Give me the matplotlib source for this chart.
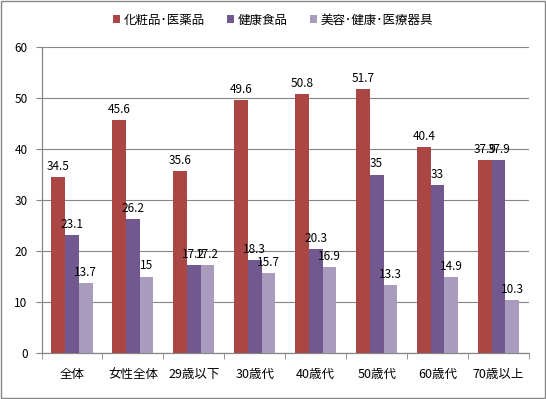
import matplotlib
matplotlib.use('Agg')
import matplotlib.pyplot as plt
from matplotlib.patches import Rectangle
import numpy as np

plt.rcParams['font.family'] = ['Noto Sans CJK JP', 'DejaVu Sans']

categories = ['全体', '女性全体', '29歳以下', '30歳代', '40歳代', '50歳代', '60歳代', '70歳以上']
series_names = ['化粧品･医薬品', '健康食品', '美容･健康･医療器具']
cosme = [34.5, 45.6, 35.6, 49.6, 50.8, 51.7, 40.4, 37.9]
health_food = [23.1, 26.2, 17.2, 18.3, 20.3, 35, 33, 37.9]
devices = [13.7, 15, 17.2, 15.7, 16.9, 13.3, 14.9, 10.3]
colors = ['#AA4643', '#71588F', '#A99BBD']
GRAY = '#868686'

fig = plt.figure(figsize=(5.46, 3.99), dpi=100)
ax = fig.add_axes([41.5 / 546, 1 - 353 / 399, (529 - 41.5) / 546, (353 - 47) / 399])

x = np.arange(len(categories))
w = 0.225
for i, (vals, name, c) in enumerate(zip([cosme, health_food, devices], series_names, colors)):
    xs = x + (i - 1) * w
    ax.bar(xs, vals, width=w, color=c, label=name, zorder=3)
    for xi, v in zip(xs, vals):
        ax.annotate(f'{v:g}', (xi, v), xytext=(0, 3), textcoords='offset points',
                    ha='center', va='bottom', fontsize=8.5, zorder=4)

ax.set_xlim(-0.5, len(categories) - 0.5)
ax.set_ylim(0, 60)
ax.set_yticks(range(0, 61, 10))
ax.yaxis.grid(True, color=GRAY, lw=0.8, zorder=0)
ax.set_axisbelow(True)

ax.set_xticks(x)
ax.set_xticklabels(categories, fontsize=9)
ax.tick_params(axis='x', length=0, pad=11)
ax.set_xticks(np.arange(-0.5, len(categories)), minor=True)
ax.tick_params(axis='x', which='minor', length=4, color=GRAY, direction='out')
ax.tick_params(axis='y', labelsize=8.5, length=4, color=GRAY, pad=6)

for s in ['top', 'right']:
    ax.spines[s].set_visible(False)
for s in ['left', 'bottom']:
    ax.spines[s].set_color(GRAY)
    ax.spines[s].set_linewidth(0.9)

fig.legend(loc='center', bbox_to_anchor=(0.5, 1 - 20 / 399), ncol=3, frameon=False,
           fontsize=9, handlelength=0.55, handleheight=0.55, handletextpad=0.3,
           columnspacing=1.8)

fig.patches.append(Rectangle((0.002, 0.003), 0.996, 0.994, transform=fig.transFigure,
                             fill=False, edgecolor=GRAY, lw=1.0))

fig.savefig('out.png', dpi=100)
